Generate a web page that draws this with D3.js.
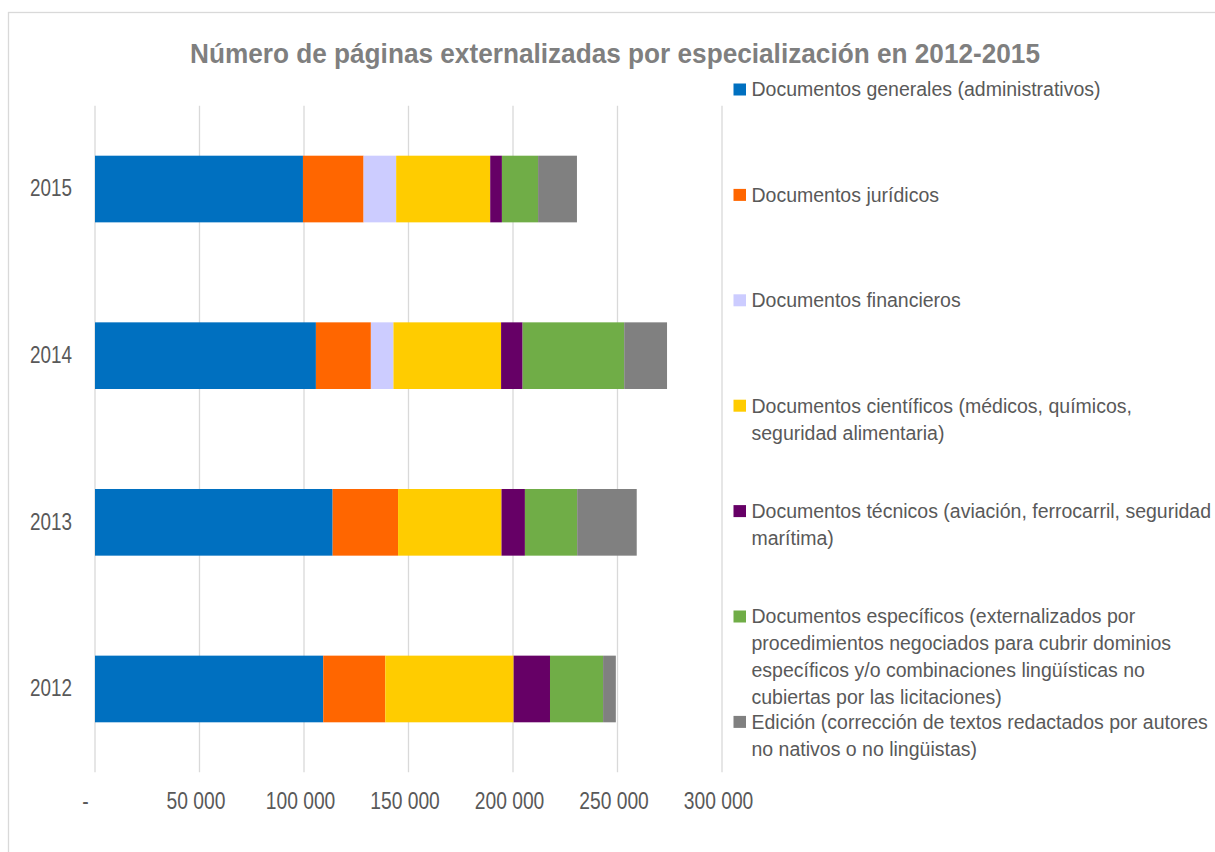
<!DOCTYPE html>
<html>
<head>
<meta charset="utf-8">
<script src="https://cdn.jsdelivr.net/npm/d3@7"></script>
<style>
  body { margin: 0; background: #fff; }
  text { font-family: "Liberation Sans", Arial, sans-serif; }
</style>
</head>
<body>
<div id="chart"></div>
<script>
// categories (top to bottom = 2015 .. 2012)
var years = ["2015", "2014", "2013", "2012"];

// series values, same order as years
var generales   = [99500, 105700, 113700, 109200];
var juridicos   = [29000, 26300, 31300, 29700];
var financieros = [15600, 10800, 0, 0];
var cientificos = [45000, 51500, 49500, 61400];
var tecnicos    = [5600, 10300, 11200, 17400];
var especificos = [17300, 48600, 25000, 25400];
var edicion     = [18600, 20500, 28500, 6100];

var xTicks = [0, 50000, 100000, 150000, 200000, 250000, 300000];

var seriesKeys = ["generales", "juridicos", "financieros", "cientificos", "tecnicos", "especificos", "edicion"];
var seriesColors = ["#0070C0", "#FF6600", "#CCCCFF", "#FFCC00", "#660066", "#70AD47", "#808080"];
var legendLabels = [
    ["Documentos generales (administrativos)"],
    ["Documentos jurídicos"],
    ["Documentos financieros"],
    ["Documentos científicos (médicos, químicos,", "seguridad alimentaria)"],
    ["Documentos técnicos (aviación, ferrocarril, seguridad", "marítima)"],
    ["Documentos específicos (externalizados por", "procedimientos negociados para cubrir dominios", "específicos y/o combinaciones lingüísticas no", "cubiertas por las licitaciones)"],
    ["Edición (corrección de textos redactados por autores", "no nativos o no lingüistas)"]
];
var titleText = "Número de páginas externalizadas por especialización en 2012-2015";

// build rows for d3.stack
var seriesValues = [generales, juridicos, financieros, cientificos, tecnicos, especificos, edicion];
var data = years.map(function (yr, i) {
    var row = { year: yr };
    seriesKeys.forEach(function (k, j) { row[k] = seriesValues[j][i]; });
    return row;
});

var width = 1215, height = 852;
var plot = { left: 95, right: 722, top: 105.7, bottom: 772.3 };
var narrow = 0.82; // no narrow font installed: squeeze Liberation Sans horizontally

var svg = d3.select("#chart")
    .append("svg")
    .attr("width", width)
    .attr("height", height);

// chart frame
svg.append("rect")
    .attr("x", 8.5).attr("y", 12.5)
    .attr("width", width).attr("height", height)
    .attr("fill", "#fff")
    .attr("stroke", "#d9d9d9")
    .attr("stroke-width", 1.3);

// title
svg.append("text")
    .attr("x", 615)
    .attr("y", 63)
    .attr("text-anchor", "middle")
    .attr("textLength", 850)
    .attr("lengthAdjust", "spacingAndGlyphs")
    .style("font-size", "27px")
    .style("font-weight", "bold")
    .style("fill", "#7f7f7f")
    .text(titleText);

// scales
var x = d3.scaleLinear()
    .domain([0, 300000])
    .range([plot.left, plot.right]);

var y = d3.scaleBand()
    .domain(years)
    .range([plot.top, plot.bottom])
    .paddingInner(0.6)
    .paddingOuter(0.3);

var color = d3.scaleOrdinal()
    .domain(seriesKeys)
    .range(seriesColors);

// gridlines
svg.append("g")
    .selectAll("line")
    .data(xTicks)
    .enter()
    .append("line")
    .attr("x1", function (d) { return x(d); })
    .attr("x2", function (d) { return x(d); })
    .attr("y1", plot.top)
    .attr("y2", plot.bottom)
    .attr("stroke", "#d9d9d9")
    .attr("stroke-width", 1.3);

// stacked bars
var stackedData = d3.stack().keys(seriesKeys)(data);

svg.append("g")
    .selectAll("g")
    .data(stackedData)
    .enter()
    .append("g")
    .attr("fill", function (d) { return color(d.key); })
    .selectAll("rect")
    .data(function (d) { return d; })
    .enter()
    .append("rect")
    .attr("x", function (d) { return x(d[0]); })
    .attr("width", function (d) { return x(d[1]) - x(d[0]); })
    .attr("y", function (d) { return y(d.data.year); })
    .attr("height", y.bandwidth());

// X axis
var xAxis = svg.append("g")
    .attr("transform", "translate(0," + plot.bottom + ")")
    .call(d3.axisBottom(x)
        .tickValues(xTicks)
        .tickSize(0)
        .tickPadding(20)
        .tickFormat(function (d) { return d === 0 ? "-" : d3.format(",")(d).replace(/,/g, " "); }));
xAxis.select(".domain").remove();
xAxis.selectAll("text")
    .attr("font-family", null)
    .attr("x", function (d) { return (d === 0 ? -10 : -4) / narrow; })
    .attr("transform", "scale(" + narrow + ",1)")
    .style("font-size", "23.5px")
    .style("fill", "#595959");

// Y axis
var yAxis = svg.append("g")
    .attr("transform", "translate(" + plot.left + ",0)")
    .call(d3.axisLeft(y).tickSize(0).tickPadding(23));
yAxis.select(".domain").remove();
yAxis.selectAll("text")
    .attr("font-family", null)
    .attr("x", -23 / narrow)
    .attr("transform", "scale(" + narrow + ",1)")
    .style("font-size", "23px")
    .style("fill", "#595959");

// legend
var legend = svg.append("g");
var legendItems = legend.selectAll("g")
    .data(legendLabels)
    .enter()
    .append("g")
    .attr("transform", function (d, i) { return "translate(733.5," + (89.5 + i * 105.4) + ")"; });

legendItems.append("rect")
    .attr("x", 0).attr("y", -6)
    .attr("width", 12.5).attr("height", 12)
    .attr("fill", function (d, i) { return seriesColors[i]; });

legendItems.append("text")
    .attr("x", 18)
    .attr("y", 0)
    .style("font-size", "19.5px")
    .style("fill", "#595959")
    .selectAll("tspan")
    .data(function (d) { return d; })
    .enter()
    .append("tspan")
    .attr("x", 18)
    .attr("y", function (d, i) { return i * 27; })
    .attr("dy", "0.35em")
    .text(function (d) { return d; });
</script>
</body>
</html>
